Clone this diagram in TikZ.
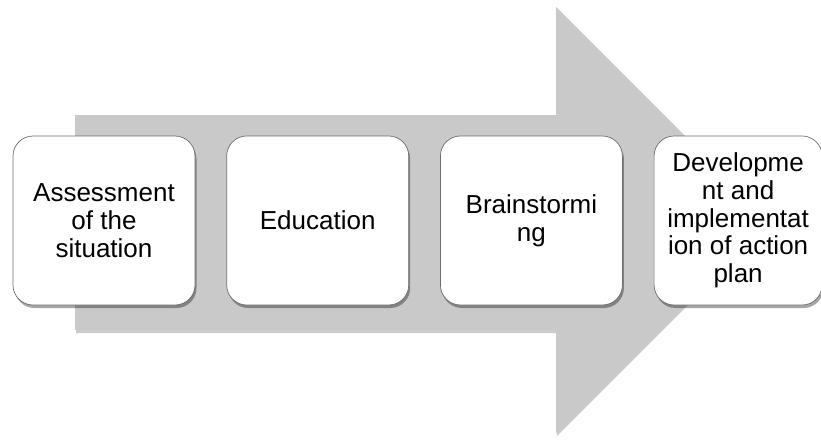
\documentclass[tikz,border=0pt]{standalone}
\usepackage{fontspec}
\setmainfont{Liberation Sans}
\usetikzlibrary{positioning, shadows}
\definecolor{arrowgray}{RGB}{201, 201, 201}
\definecolor{cardedge}{RGB}{110, 110, 110}
\tikzset{
  stepcard/.style={rectangle, rounded corners=20pt, draw=cardedge, line width=0.7pt, fill=white, minimum width=182pt, minimum height=169pt, align=center, inner sep=1pt, font=\fontsize{26}{27.7}\selectfont, drop shadow={shadow xshift=1.5pt, shadow yshift=-3pt, opacity=0.35, fill=black}},
  bigarrow/.style={fill=arrowgray, draw=none, drop shadow={shadow xshift=1pt, shadow yshift=-3pt, opacity=0.2, fill=black}}
}

\begin{document}
\begin{tikzpicture}[x=1pt, y=-1pt]
    \useasboundingbox (0, 0) rectangle (821, 439);
    % Background arrow
    \fill[bigarrow] (75, 115) -- (556, 115) -- (556, 7) -- (769, 220) -- (556, 433) -- (556, 330) -- (75, 330) -- cycle;

    % Steps
    \node[stepcard] (assess) at (104, 220.5) {Assessment\\of the\\situation};
    \node[stepcard, right=31pt of assess] (educ) {Education};
    \node[stepcard, right=31pt of educ] (brain) {Brainstormi\\ng};
    \node[stepcard, right=31pt of brain, minimum width=168pt] (devel) {Developme\\nt and\\implementat\\ion of action\\plan};
\end{tikzpicture}
\end{document}
